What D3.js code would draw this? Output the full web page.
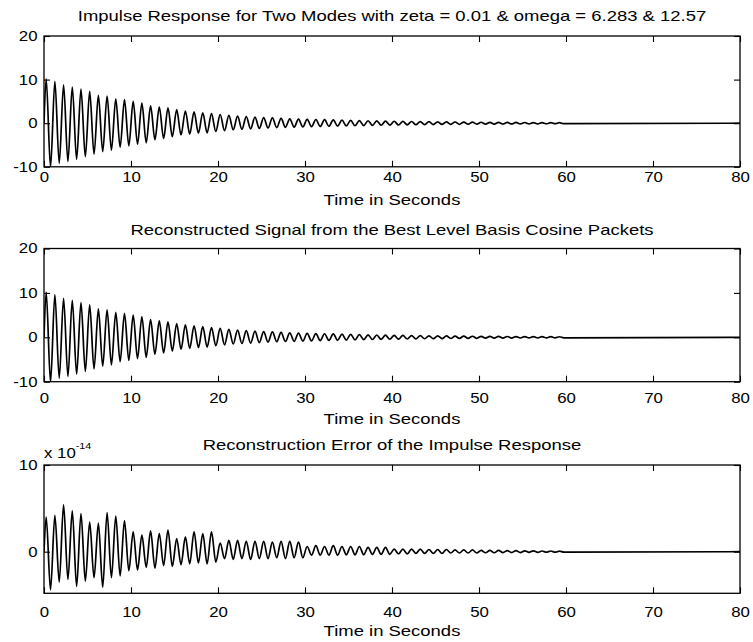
<!DOCTYPE html>
<html>
<head>
<meta charset="utf-8">
<script src="https://cdnjs.cloudflare.com/ajax/libs/d3/7.8.5/d3.min.js"></script>
<style>
body { margin: 0; background: #fff; }
svg { display: block; background: #fff; }
text { font-family: "Liberation Sans", Arial, Helvetica, sans-serif; fill: #000; }
.axis path { display: none; }
.axis line { stroke: #000; stroke-width: 1.1; }
.axis text { font-size: 14px; }
.frame { fill: none; stroke: #000; stroke-width: 1.3; }
.signal { fill: none; stroke: #000; stroke-width: 1.7; stroke-linejoin: round; }
.title, .label { font-size: 15px; text-anchor: middle; }
</style>
</head>
<body>
<svg width="753" height="642"></svg>
<script>
// **** values ****

var timeTicks = [0, 10, 20, 30, 40, 50, 60, 70, 80];
var signalTicks = [-10, 0, 10, 20];
var errorTicks = [0, 10];

var titles = [
    "Impulse Response for Two Modes with zeta = 0.01 & omega = 6.283 & 12.57",
    "Reconstructed Signal from the Best Level Basis Cosine Packets",
    "Reconstruction Error of the Impulse Response"
];
var xLabel = "Time in Seconds";
var errorExponent = "-14";

// one peak and one trough per second (period about 1 s), from t = 0 on
var signalPeaks = [10.2, 9.6, 8.8, 8.3, 7.8, 7.3, 6.4, 6.2, 5.6, 5.4,
    5.0, 4.6, 4.0, 3.7, 3.5, 3.1, 2.8, 2.6, 2.4, 2.2,
    2.0, 1.8, 1.6, 1.5, 1.4, 1.3, 1.2, 1.1, 1.0, 0.95,
    0.9, 0.85, 0.8, 0.75, 0.7, 0.65, 0.6, 0.56, 0.52, 0.48,
    0.45, 0.42, 0.39, 0.36, 0.34, 0.32, 0.3, 0.28, 0.26, 0.24,
    0.22, 0.21, 0.2, 0.18, 0.17, 0.16, 0.15, 0.14, 0.13, 0.12];
var signalTroughs = [-10.1, -9.2, -8.8, -8.3, -7.7, -7.1, -6.5, -6.2, -5.5, -5.2,
    -4.8, -4.5, -3.8, -3.5, -3.1, -2.7, -2.5, -2.3, -2.2, -1.9,
    -1.7, -1.5, -1.4, -1.3, -1.2, -1.1, -1.0, -0.95, -0.9, -0.85,
    -0.8, -0.75, -0.7, -0.66, -0.62, -0.58, -0.54, -0.5, -0.47, -0.44,
    -0.41, -0.38, -0.36, -0.33, -0.31, -0.29, -0.27, -0.25, -0.23, -0.22,
    -0.2, -0.19, -0.18, -0.17, -0.16, -0.15, -0.14, -0.13, -0.12, -0.11];

// reconstruction error, in units of 1e-14
var errorPeaks = [4.0, 4.2, 5.4, 4.7, 4.4, 3.4, 3.3, 4.5, 4.1, 3.6,
    2.3, 1.9, 2.4, 2.1, 2.5, 1.5, 1.7, 2.3, 2.1, 2.3,
    1.0, 1.3, 1.3, 1.2, 1.2, 1.2, 1.1, 1.2, 1.2, 1.1,
    0.6, 0.7, 0.6, 0.7, 0.6, 0.6, 0.6, 0.5, 0.5, 0.5,
    0.3, 0.3, 0.3, 0.3, 0.25, 0.25, 0.25, 0.2, 0.2, 0.2,
    0.15, 0.15, 0.15, 0.12, 0.12, 0.1, 0.1, 0.08, 0.08, 0.06];
var errorTroughs = [-4.4, -3.5, -3.2, -4.0, -3.4, -3.0, -4.1, -3.0, -2.8, -2.2,
    -2.1, -1.8, -1.9, -1.6, -1.7, -1.5, -1.4, -1.3, -1.4, -1.2,
    -0.8, -0.9, -0.8, -0.9, -0.8, -0.8, -0.7, -0.8, -0.7, -0.7,
    -0.4, -0.4, -0.4, -0.4, -0.35, -0.35, -0.35, -0.3, -0.3, -0.3,
    -0.25, -0.25, -0.2, -0.2, -0.2, -0.2, -0.15, -0.15, -0.15, -0.15,
    -0.12, -0.12, -0.1, -0.1, -0.1, -0.08, -0.08, -0.06, -0.06, -0.05];

// **** layout ****

var svg = d3.select("svg");
var x = d3.scaleLinear().domain([0, 80]).range([44, 740]);

var panels = [
    {title: titles[0], peaks: signalPeaks, troughs: signalTroughs, domain: [-10, 20], ticks: signalTicks,
        top: 36, bottom: 166.8, titleY: 20.5, tickPad: 5.5, labelY: 204.5},
    {title: titles[1], peaks: signalPeaks, troughs: signalTroughs, domain: [-10, 20], ticks: signalTicks,
        top: 248.5, bottom: 381.7, titleY: 234.5, tickPad: 11.5, labelY: 424},
    {title: titles[2], peaks: errorPeaks, troughs: errorTroughs, domain: [-4.8, 10], ticks: errorTicks,
        top: 465, bottom: 593.3, titleY: 450, tickPad: 13.5, labelY: 636, exponent: errorExponent}
];

// plain hyphen for negatives, as in the original
function fmt(d) { return String(d); }

// scanned Helvetica is wider than Liberation Sans
function stretch(sel, k) {
    sel.each(function () {
        var w = this.getComputedTextLength();
        d3.select(this).attr("textLength", w * k).attr("lengthAdjust", "spacingAndGlyphs");
    });
}

function buildPoints(peaks, troughs) {
    var pts = [[0, 0]];
    peaks.forEach(function (p, k) {
        pts.push([k + 0.25, p]);
        pts.push([k + 0.75, troughs[k]]);
    });
    pts.push([80, 0]);
    return pts;
}

panels.forEach(function (p, i) {
    var y = d3.scaleLinear().domain(p.domain).range([p.bottom, p.top]);
    var g = svg.append("g");

    g.append("clipPath").attr("id", "clip" + i)
        .append("rect")
        .attr("x", x(0)).attr("y", p.top)
        .attr("width", x(80) - x(0)).attr("height", p.bottom - p.top);

    var line = d3.line()
        .curve(d3.curveMonotoneX)
        .x(function (d) { return x(d[0]); })
        .y(function (d) { return y(d[1]); });
    g.append("path").attr("class", "signal")
        .attr("clip-path", "url(#clip" + i + ")")
        .attr("d", line(buildPoints(p.peaks, p.troughs)));

    var bottomAxis = g.append("g").attr("class", "axis")
        .attr("transform", "translate(0," + p.bottom + ")")
        .call(d3.axisBottom(x).tickValues(timeTicks).tickFormat(fmt)
            .tickSizeInner(-6).tickSizeOuter(0).tickPadding(p.tickPad));
    g.append("g").attr("class", "axis")
        .attr("transform", "translate(0," + p.top + ")")
        .call(d3.axisTop(x).tickValues(timeTicks).tickSizeInner(-6).tickSizeOuter(0).tickFormat(""));
    var leftAxis = g.append("g").attr("class", "axis")
        .attr("transform", "translate(" + x(0) + ",0)")
        .call(d3.axisLeft(y).tickValues(p.ticks).tickFormat(fmt)
            .tickSizeInner(-6).tickSizeOuter(0).tickPadding(6.5));
    g.append("g").attr("class", "axis")
        .attr("transform", "translate(" + x(80) + ",0)")
        .call(d3.axisRight(y).tickValues(p.ticks).tickSizeInner(-6).tickSizeOuter(0).tickFormat(""));

    stretch(bottomAxis.selectAll("text"), 1.2);
    stretch(leftAxis.selectAll("text"), 1.2);

    g.append("rect").attr("class", "frame")
        .attr("x", x(0)).attr("y", p.top)
        .attr("width", x(80) - x(0)).attr("height", p.bottom - p.top);

    var t = g.append("text").attr("class", "title")
        .attr("x", (x(0) + x(80)) / 2).attr("y", p.titleY).text(p.title);
    stretch(t, 1.23);

    var l = g.append("text").attr("class", "label")
        .attr("x", (x(0) + x(80)) / 2).attr("y", p.labelY).text(xLabel);
    stretch(l, 1.23);

    if (p.exponent) {
        var e = g.append("text").attr("x", x(0)).attr("y", p.top - 7).style("font-size", "14px");
        e.append("tspan").text("x 10");
        e.append("tspan").attr("dy", -9).style("font-size", "9px").text(p.exponent);
        stretch(e, 1.2);
    }
});
</script>
</body>
</html>
